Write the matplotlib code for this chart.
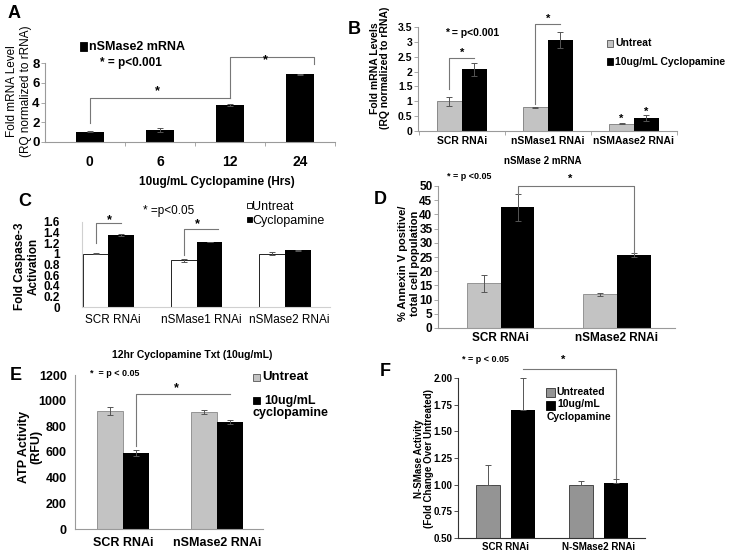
import numpy as np
import matplotlib
matplotlib.use("Agg")
import matplotlib.pyplot as plt
from matplotlib.patches import Rectangle

plt.rcParams['font.family'] = ['Liberation Sans', 'DejaVu Sans']

# ---- data ----
a_hours = ['0', '6', '12', '24']
a_vals = [1.05, 1.2, 3.72, 6.85]
a_err = [0.05, 0.2, 0.08, 0.08]

b_groups = ['SCR RNAi', 'nSMase1 RNAi', 'nSMAase2 RNAi']
b_untreat = [1.0, 0.8, 0.25]
b_untreat_err = [0.16, 0.01, 0.03]
b_cyclo = [2.07, 3.05, 0.45]
b_cyclo_err = [0.22, 0.27, 0.1]

c_groups = ['SCR RNAi', 'nSMase1 RNAi', 'nSMase2 RNAi']
c_untreat = [1.0, 0.88, 1.0]
c_untreat_err = [0.01, 0.03, 0.03]
c_cyclo = [1.35, 1.22, 1.07]
c_cyclo_err = [0.02, 0.0, 0.01]

d_groups = ['SCR RNAi', 'nSMase2 RNAi']
d_untreat = [15.8, 11.8]
d_untreat_err = [3.0, 0.5]
d_cyclo = [42.5, 25.6]
d_cyclo_err = [4.8, 0.7]

e_groups = ['SCR RNAi', 'nSMase2 RNAi']
e_untreat = [920, 912]
e_untreat_err = [32, 15]
e_cyclo = [592, 835]
e_cyclo_err = [25, 15]

f_groups = ['SCR RNAi', 'N-SMase2 RNAi']
f_untreat = [1.0, 1.0]
f_untreat_err = [0.18, 0.03]
f_cyclo = [1.70, 1.015]
f_cyclo_err = [0.30, 0.035]

LGRAY = '#c3c3c3'
DGRAY = '#949494'
SPINE = '#9a9a9a'

W, H = 733, 559
fig = plt.figure(figsize=(W / 100, H / 100), dpi=100)


def add_ax(x0, y0, x1, y1):
    ax = fig.add_axes([x0 / W, 1 - y1 / H, (x1 - x0) / W, (y1 - y0) / H])
    for s in ['top', 'right']:
        ax.spines[s].set_visible(False)
    for s in ['left', 'bottom']:
        ax.spines[s].set_color(SPINE)
        ax.spines[s].set_linewidth(0.8)
    ax.tick_params(axis='y', length=3, width=0.6, color=SPINE, pad=1)
    ax.tick_params(axis='x', which='major', length=0)
    ax.tick_params(axis='x', which='minor', length=3, width=0.6, color=SPINE)
    ax.patch.set_alpha(0)
    return ax


def ftext(x, y, s, **kw):
    kw.setdefault('ha', 'left')
    kw.setdefault('va', 'center')
    fig.text(x / W, 1 - y / H, s, **kw)


def fsquare(x, y, w, h, fc, ec='black'):
    fig.patches.append(Rectangle((x / W, 1 - (y + h) / H), w / W, h / H,
                                 transform=fig.transFigure, fc=fc, ec=ec, lw=0.6))


def bracket(ax, pts, **kw):
    xs, ys = zip(*pts)
    ax.plot(xs, ys, color='#777777', lw=0.8, clip_on=False, **kw)


def star(ax, x, y, size=9):
    ax.text(x, y, '*', ha='center', va='center', fontsize=size, fontweight='bold', clip_on=False)


ekw = dict(ecolor='#555555', elinewidth=0.7, capsize=2.5, capthick=0.7)

# ---------------- Panel A ----------------
ax = add_ax(45, 63, 335, 142)
xa = np.arange(len(a_hours))
ax.bar(xa, a_vals, width=0.4, color='black', yerr=a_err, error_kw=ekw)
ax.set_xlim(-0.64, 3.5)
ax.set_ylim(0, 8)
ax.set_yticks([0, 2, 4, 6, 8])
ax.set_xticks(xa, a_hours)
ax.set_xticks([0.5, 1.5, 2.5, 3.5], minor=True)
ax.tick_params(axis='x', pad=9, labelsize=10)
ax.tick_params(axis='y', labelsize=9.5)
for t in ax.get_xticklabels() + ax.get_yticklabels():
    t.set_fontweight('bold')
bracket(ax, [(0, 1.9), (0, 4.45), (2, 4.45)])
bracket(ax, [(2, 4.45), (2, 8.6), (3.2, 8.6), (3.2, 7.9)])
star(ax, 0.96, 5.1)
star(ax, 2.5, 8.3)
ftext(14, 14, 'A', fontsize=13, fontweight='bold', ha='center')
ftext(19, 91, 'Fold mRNA Level\n(RQ normalized to rRNA)', rotation=90,
      ha='center', fontsize=8.5, linespacing=1.25)
ftext(217, 182, '10ug/mL Cyclopamine (Hrs)', ha='center', fontsize=8.5, fontweight='bold')
fsquare(80, 42, 7, 9, 'black')
ftext(89, 47, 'nSMase2 mRNA', fontsize=9, fontweight='bold')
ftext(100, 63, '* = p<0.001', fontsize=8.5, fontweight='bold')

# ---------------- Panel B ----------------
ax = add_ax(418, 27, 677, 131)
xb = np.arange(len(b_groups))
bw = 0.29
ax.bar(xb - bw / 2, b_untreat, width=bw, color=LGRAY, edgecolor='#666666', lw=0.5,
       yerr=b_untreat_err, error_kw=ekw)
ax.bar(xb + bw / 2, b_cyclo, width=bw, color='black', yerr=b_cyclo_err, error_kw=ekw)
ax.set_xlim(-0.51, 2.5)
ax.set_ylim(0, 3.5)
ax.set_yticks([0, 0.5, 1, 1.5, 2, 2.5, 3, 3.5], ['0', '0.5', '1', '1.5', '2', '2.5', '3', '3.5'])
ax.set_xticks(xb, b_groups)
ax.set_xticks([-0.5, 0.5, 1.5, 2.5], minor=True)
ax.tick_params(axis='x', pad=3.5, labelsize=7.5)
ax.tick_params(axis='y', labelsize=7.5)
for t in ax.get_xticklabels() + ax.get_yticklabels():
    t.set_fontweight('bold')
bracket(ax, [(-bw / 2, 1.4), (-bw / 2, 2.45), (bw / 2, 2.45)])
star(ax, 0, 2.62, 8)
bracket(ax, [(1 - bw / 2, 0.9), (1 - bw / 2, 3.6), (1 + bw / 2, 3.6)])
star(ax, 1, 3.78, 8)
star(ax, 2 - bw / 2, 0.4, 8)
star(ax, 2 + bw / 2, 0.66, 8)
ftext(354, 30, 'B', fontsize=13, fontweight='bold', ha='center')
ftext(380, 68, 'Fold mRNA Levels\n(RQ normalized to rRNA)', rotation=90,
      ha='center', fontsize=7.5, fontweight='bold', linespacing=1.1)
ftext(543, 161, 'nSMase 2 mRNA', ha='center', fontsize=7, fontweight='bold')
ftext(445, 33, '* = p<0.001', fontsize=7.5, fontweight='bold')
fsquare(607, 40, 6, 7, LGRAY, '#555555')
ftext(615, 43, 'Untreat', fontsize=7.5, fontweight='bold')
fsquare(607, 58, 6, 7, 'black')
ftext(615, 62, '10ug/mL Cyclopamine', fontsize=7.5, fontweight='bold')

# ---------------- Panel C ----------------
ax = add_ax(82, 222, 330, 307)
xc = np.arange(len(c_groups))
cw = 0.29
ax.bar(xc - cw / 2, c_untreat, width=cw, color='white', edgecolor='black', lw=0.6,
       yerr=c_untreat_err, error_kw=ekw)
ax.bar(xc + cw / 2, c_cyclo, width=cw, color='black', yerr=c_cyclo_err, error_kw=ekw)
ax.set_xlim(-0.3, 2.51)
ax.set_ylim(0, 1.6)
ax.set_yticks([0, 0.2, 0.4, 0.6, 0.8, 1, 1.2, 1.4, 1.6],
              ['0', '0.2', '0.4', '0.6', '0.8', '1', '1.2', '1.4', '1.6'])
ax.spines['left'].set_color('#d0d0d0')
ax.spines['bottom'].set_color('#d0d0d0')
ax.tick_params(axis='y', length=0, pad=16, labelsize=8.5)
ax.set_xticks(xc + 0.05, c_groups)
ax.tick_params(axis='x', pad=5, labelsize=8.5)
for t in ax.get_yticklabels():
    t.set_fontweight('bold')
bracket(ax, [(-cw / 2, 1.2), (-cw / 2, 1.58), (cw / 2, 1.58)])
star(ax, 0.01, 1.64)
bracket(ax, [(1 - cw / 2, 0.98), (1 - cw / 2, 1.47), (1 + cw / 2 + 0.1, 1.47)])
star(ax, 1.01, 1.55)
ftext(25, 202, 'C', fontsize=13, fontweight='bold', ha='center')
ftext(27, 266, 'Fold Caspase-3\nActivation', rotation=90, ha='center',
      fontsize=8.5, fontweight='bold', linespacing=1.15)
ftext(192, 355, '12hr Cyclopamine Txt (10ug/mL)', ha='center', fontsize=7.5,
      fontweight='bold')
ftext(143, 211, '* =p<0.05', fontsize=8.5)
fsquare(247, 203, 4.5, 5, 'white', 'black')
ftext(252, 207, 'Untreat', fontsize=9)
fsquare(247, 217, 4.5, 5, 'black')
ftext(252, 221, 'Cyclopamine', fontsize=9)

# ---------------- Panel D ----------------
ax = add_ax(438, 186, 675, 328)
xd = np.arange(len(d_groups))
dw = 0.29
ax.bar(xd - dw / 2, d_untreat, width=dw, color=LGRAY, edgecolor='#777777', lw=0.5,
       yerr=d_untreat_err, error_kw=ekw)
ax.bar(xd + dw / 2, d_cyclo, width=dw, color='black', yerr=d_cyclo_err, error_kw=ekw)
ax.set_xlim(-0.54, 1.5)
ax.set_ylim(0, 50)
ax.set_yticks(np.arange(0, 51, 5))
ax.set_xticks(xd, d_groups)
ax.tick_params(axis='x', pad=3, labelsize=8.5)
ax.tick_params(axis='y', labelsize=8.5)
for t in ax.get_xticklabels() + ax.get_yticklabels():
    t.set_fontweight('bold')
bracket(ax, [(dw / 2, 47.3), (dw / 2, 50), (1 + dw / 2, 50), (1 + dw / 2, 26.5)])
star(ax, 0.6, 52.5, 8)
ftext(380, 199, 'D', fontsize=13, fontweight='bold', ha='center')
ftext(409, 263, '% Annexin V positive/\ntotal cell population', rotation=90,
      ha='center', fontsize=8, fontweight='bold', linespacing=1.2)
ftext(447, 176, '* = p <0.05', fontsize=6.5, fontweight='bold')

# ---------------- Panel E ----------------
ax = add_ax(75, 375, 263, 529)
xe = np.arange(len(e_groups))
ew = 0.28
ax.bar(xe - ew / 2, e_untreat, width=ew, color=LGRAY, edgecolor='#777777', lw=0.5,
       yerr=e_untreat_err, error_kw=ekw)
ax.bar(xe + ew / 2, e_cyclo, width=ew, color='black', yerr=e_cyclo_err, error_kw=ekw)
ax.set_xlim(-0.51, 1.49)
ax.set_ylim(0, 1200)
ax.set_yticks(np.arange(0, 1201, 200))
ax.set_xticks(xe, e_groups)
ax.tick_params(axis='x', pad=6, labelsize=9)
ax.tick_params(axis='y', labelsize=9, pad=6, length=0)
for t in ax.get_xticklabels() + ax.get_yticklabels():
    t.set_fontweight('bold')
bracket(ax, [(ew / 2, 650), (ew / 2, 1050), (1 + ew / 2, 1050)])
star(ax, 0.57, 1100)
ftext(16, 376, 'E', fontsize=13, fontweight='bold', ha='center')
ftext(30, 447, 'ATP Activity\n(RFU)', rotation=90, ha='center', fontsize=9,
      fontweight='bold', linespacing=1.1)
ftext(90, 373, '*  = p < 0.05', fontsize=6.5, fontweight='bold')
fsquare(253, 374, 7, 7, LGRAY, '#555555')
ftext(262, 377, 'Untreat', fontsize=9.5, fontweight='bold')
fsquare(253, 397, 7, 7, 'black')
ftext(264, 401, '10ug/mL', fontsize=9, fontweight='bold')
ftext(252, 413, 'cyclopamine', fontsize=9, fontweight='bold')

# ---------------- Panel F ----------------
ax = add_ax(458, 378, 645, 538)
xf = np.arange(len(f_groups))
fw = 0.26
off = 0.19
ax.bar(xf - off, f_untreat, width=fw, color=DGRAY, edgecolor='#333333', lw=0.6,
       yerr=[[0, 0], f_untreat_err], error_kw=ekw)
ax.bar(xf + off, f_cyclo, width=fw, color='black',
       yerr=[[0, 0], f_cyclo_err], error_kw=ekw)
ax.set_xlim(-0.51, 1.5)
ax.set_ylim(0.5, 2.0)
ax.set_yticks(np.arange(0.5, 2.01, 0.25), ['%.2f' % v for v in np.arange(0.5, 2.01, 0.25)])
ax.set_xticks(xf, f_groups)
ax.spines['left'].set_color('#333333')
ax.spines['bottom'].set_color('#333333')
ax.tick_params(axis='y', color='#333333')
ax.tick_params(axis='x', pad=3, labelsize=7)
ax.tick_params(axis='y', labelsize=7)
for t in ax.get_xticklabels() + ax.get_yticklabels():
    t.set_fontweight('bold')
bracket(ax, [(off, 2.08), (1 + off, 2.08), (1 + off, 1.06)])
star(ax, 0.62, 2.17, 8)
ftext(385, 371, 'F', fontsize=13, fontweight='bold', ha='center')
ftext(424, 459, 'N-SMase Activity\n(Fold Change Over Untreated)', rotation=90,
      ha='center', fontsize=7, fontweight='bold', linespacing=1.1)
ftext(462, 360, '* = p < 0.05', fontsize=6.5, fontweight='bold')
fsquare(546, 388, 9, 9, DGRAY, '#333333')
ftext(556, 392, 'Untreated', fontsize=7.5, fontweight='bold')
fsquare(546, 401, 9, 9, 'black')
ftext(557, 404, '10ug/mL', fontsize=7.5, fontweight='bold')
ftext(547, 417, 'Cyclopamine', fontsize=7.5, fontweight='bold')

fig.savefig('out.png', dpi=100)
